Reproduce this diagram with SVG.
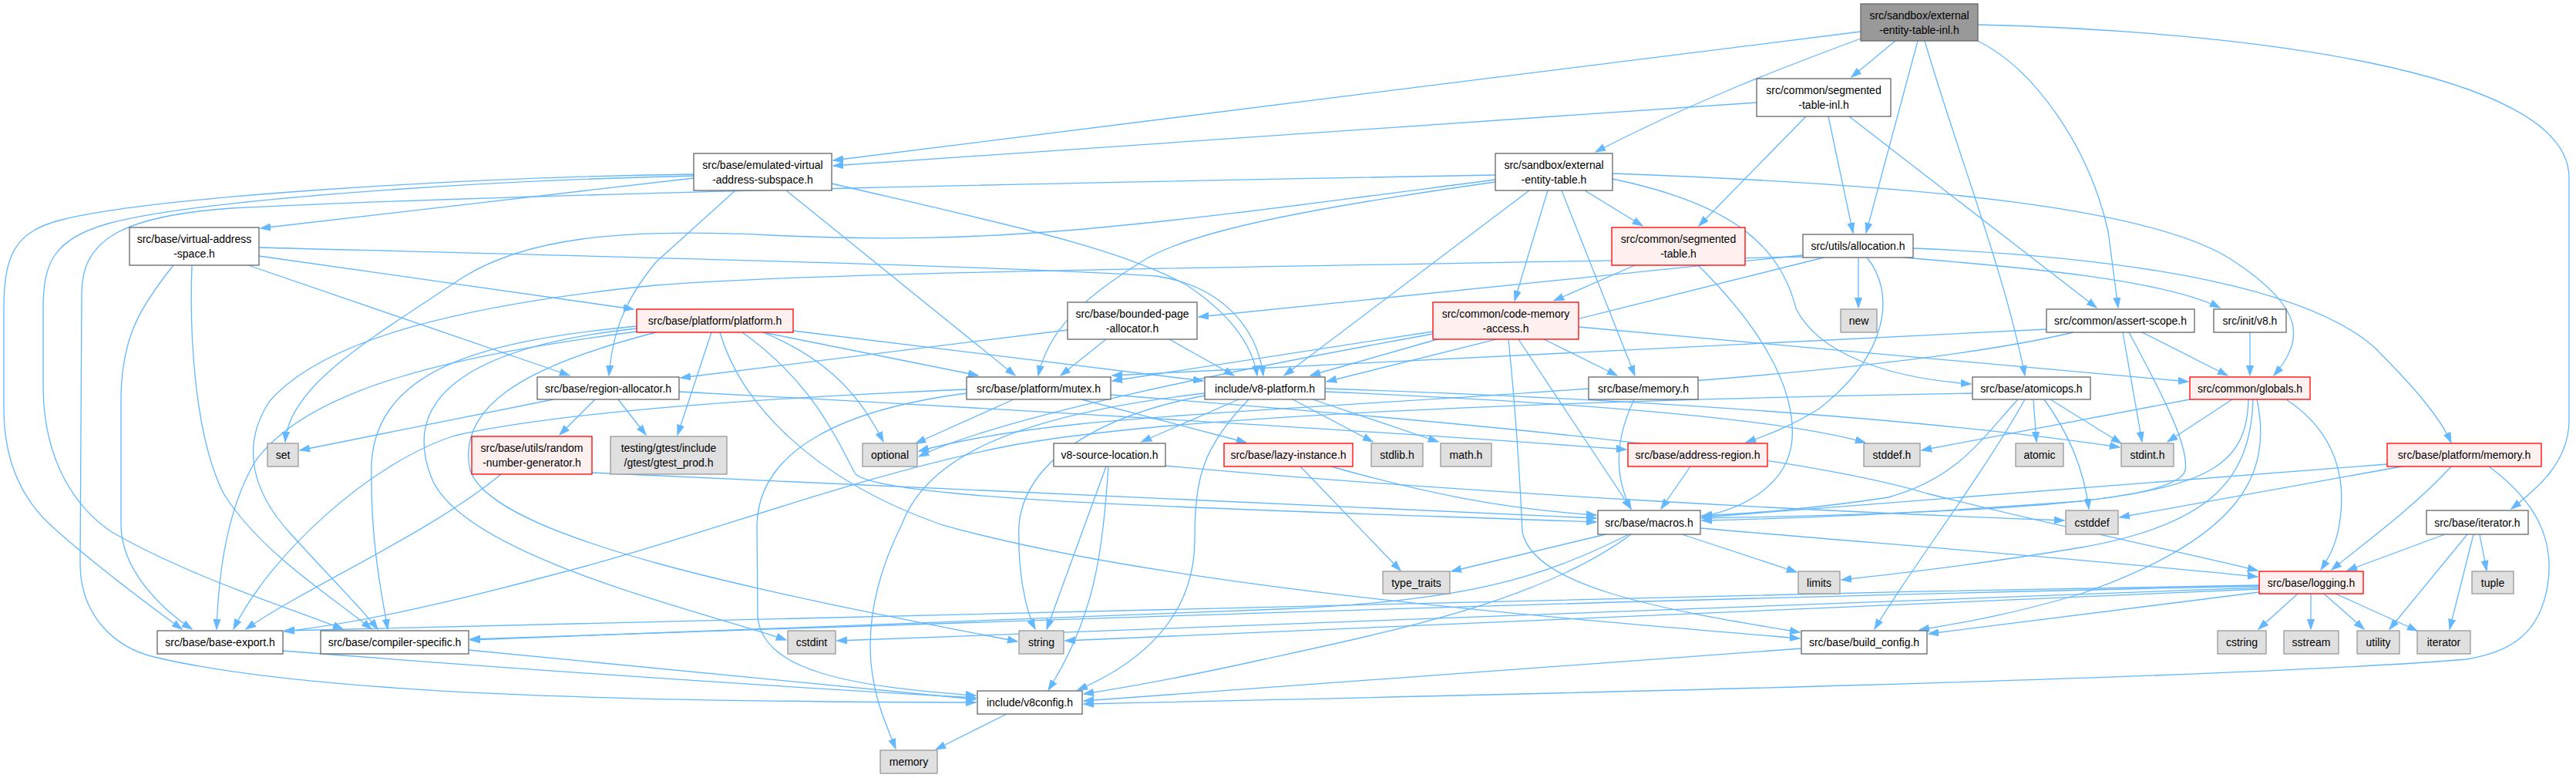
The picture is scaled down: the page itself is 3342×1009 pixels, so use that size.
<svg xmlns="http://www.w3.org/2000/svg" width="3342" height="1009" viewBox="0 0 3342 1009">
<defs>
<marker id="arr" markerWidth="14" markerHeight="10" refX="13" refY="5" orient="auto" markerUnits="userSpaceOnUse"><path d="M0,0.5 L13,5 L0,9.5 z" fill="#63b8ff" stroke="#63b8ff" stroke-width="1"/></marker>
</defs>
<style>
.e{fill:none;stroke:#63b8ff;stroke-width:1.3;marker-end:url(#arr)}
rect{stroke-width:1.3}
.n rect{fill:#ffffff;stroke:#666666}
.r rect{fill:#fff0f0;stroke:#ff0000}
.g rect{fill:#e0e0e0;stroke:#999999}
.t rect{fill:#999999;stroke:#666666}
text{font-family:"Liberation Sans",Arial,sans-serif;font-size:14px;text-anchor:middle;fill:#000000}
</style>
<rect width="3342" height="1009" fill="#ffffff"/>
<g id="edges">
<path class="e" d="M2414,41 L1081,208"/>
<path class="e" d="M2459,53 L2402,100"/>
<path class="e" d="M2414,50 C2320,85 2200,130 2070,197"/>
<path class="e" d="M2488,53 L2421,302"/>
<path class="e" d="M2566,53 C2640,90 2710,190 2735,300 L2748,399"/>
<path class="e" d="M2497,53 C2540,200 2600,350 2627,487"/>
<path class="e" d="M2566,32 C2900,40 3333,90 3333,230 L3333,545 C3333,600 3290,635 3258,660"/>
<path class="e" d="M2279,133 L1081,215"/>
<path class="e" d="M2343,151 L2204,293"/>
<path class="e" d="M2372,151 L2404,302"/>
<path class="e" d="M2399,151 L2720,399"/>
<path class="e" d="M2056,247 L2131,293"/>
<path class="e" d="M2008,247 L1965,390"/>
<path class="e" d="M2026,247 L2121,487"/>
<path class="e" d="M1984,247 L1666,487"/>
<path class="e" d="M2092,225 C2500,240 2800,270 2900,340 C2990,400 2990,440 2950,487"/>
<path class="e" d="M2092,232 C2250,265 2310,320 2330,400 C2360,460 2450,490 2557,498"/>
<path class="e" d="M1940,236 C1700,270 1540,300 1480,340 C1400,390 1360,430 1347,487"/>
<path class="e" d="M1940,233 C1500,290 1300,320 1000,305 C800,295 680,310 600,360 C480,440 375,500 370,573"/>
<path class="e" d="M1940,227 C1500,235 700,250 300,270 C160,280 106,310 106,380 L104,730 C104,800 150,840 200,852 C400,900 800,910 1266,911"/>
<path class="e" d="M900,231 L338,296"/>
<path class="e" d="M900,226 C600,230 200,255 80,285 C20,300 5,330 5,400 L5,530 C5,600 30,650 70,685 C120,730 200,790 236,816"/>
<path class="e" d="M900,228 C600,235 250,260 140,290 C70,310 56,340 56,400 L56,500 C56,600 100,660 145,690 C250,750 380,790 445,816"/>
<path class="e" d="M954,247 L851,340 C810,390 795,430 790,487"/>
<path class="e" d="M1020,247 L1317,487"/>
<path class="e" d="M1079,238 C1300,290 1450,320 1540,370 C1600,410 1625,450 1631,487"/>
<path class="e" d="M336,332 L822,401"/>
<path class="e" d="M336,321 C800,333 1300,345 1500,358 C1580,370 1630,420 1639,487"/>
<path class="e" d="M322,344 L739,487"/>
<path class="e" d="M225,344 C180,400 157,440 157,520 L157,680 C157,740 210,790 249,816"/>
<path class="e" d="M249,344 C246,420 250,560 290,640 C340,720 440,780 482,816"/>
<path class="e" d="M2339,331 L1555,411"/>
<path class="e" d="M2339,333 C1800,345 1100,350 850,370 C600,395 420,440 350,520 C310,580 330,640 375,690 C420,740 470,790 490,816"/>
<path class="e" d="M2366,334 L1721,495"/>
<path class="e" d="M2411,334 L2411,399"/>
<path class="e" d="M2422,334 C2460,380 2450,460 2360,530 C2320,555 2290,565 2265,574"/>
<path class="e" d="M2470,334 C2600,345 2800,360 2880,399"/>
<path class="e" d="M2482,322 C2800,335 3000,380 3080,450 C3130,500 3165,540 3180,574"/>
<path class="e" d="M2655,427 L1443,487"/>
<path class="e" d="M2690,431 C2400,500 1700,520 1400,550 C1300,560 1230,575 1192,585"/>
<path class="e" d="M2754,431 L2779,573"/>
<path class="e" d="M2762,431 C2810,520 2840,580 2835,610 C2825,650 2600,665 2208,672"/>
<path class="e" d="M2779,431 L2890,487"/>
<path class="e" d="M2919,431 L2919,487"/>
<path class="e" d="M1859,430 L1443,494"/>
<path class="e" d="M1859,433 C1600,480 1300,540 1192,592"/>
<path class="e" d="M1865,440 L1700,487"/>
<path class="e" d="M1957,440 C1965,520 1972,620 1975,690 C1990,760 2150,790 2335,820"/>
<path class="e" d="M1970,440 L2116,660"/>
<path class="e" d="M2003,440 L2098,487"/>
<path class="e" d="M2048,424 L2839,495"/>
<path class="e" d="M2121,344 L2016,390"/>
<path class="e" d="M2203,344 C2280,420 2330,500 2325,570 C2320,630 2260,660 2208,670"/>
<path class="e" d="M1385,428 L883,490"/>
<path class="e" d="M1435,440 L1376,487"/>
<path class="e" d="M1517,440 L1601,487"/>
<path class="e" d="M923,431 L879,564"/>
<path class="e" d="M990,431 L1269,487"/>
<path class="e" d="M1029,429 L1561,494"/>
<path class="e" d="M990,431 C1060,460 1110,500 1146,573"/>
<path class="e" d="M934,431 C960,520 1050,620 1220,680 C1500,760 2000,800 2335,828"/>
<path class="e" d="M963,431 C1060,500 1090,580 1110,615 C1150,650 1600,660 2071,677"/>
<path class="e" d="M826,430 C600,460 400,500 330,600 C290,670 283,760 281,816"/>
<path class="e" d="M826,423 C650,440 490,470 482,600 C480,700 495,770 503,816"/>
<path class="e" d="M826,426 C600,450 520,520 560,620 C600,720 900,790 1020,830"/>
<path class="e" d="M851,431 C700,470 590,520 610,610 C640,700 1000,770 1320,832"/>
<path class="e" d="M718,518 L389,584"/>
<path class="e" d="M772,518 L726,564"/>
<path class="e" d="M802,518 L838,564"/>
<path class="e" d="M881,508 C1300,530 1800,560 2110,583"/>
<path class="e" d="M650,615 C560,690 400,760 319,816"/>
<path class="e" d="M768,613 L2071,672"/>
<path class="e" d="M1254,505 C900,520 700,540 590,565 C480,600 350,720 303,816"/>
<path class="e" d="M1254,510 C1100,530 985,580 982,680 L983,800 C990,870 1100,890 1266,902"/>
<path class="e" d="M1315,518 L1188,575"/>
<path class="e" d="M1403,518 L1617,574"/>
<path class="e" d="M1441,512 C1800,540 2300,580 2500,640 C2700,690 2850,720 2929,740"/>
<path class="e" d="M1607,518 L1481,573"/>
<path class="e" d="M1620,518 C1560,580 1550,620 1550,700 C1550,800 1480,860 1398,895"/>
<path class="e" d="M1563,510 C1300,540 1200,600 1170,680 C1140,740 1125,800 1130,860 C1135,910 1150,940 1162,971"/>
<path class="e" d="M1563,513 C1420,540 1330,600 1322,680 C1320,740 1330,790 1343,816"/>
<path class="e" d="M1677,518 L1781,573"/>
<path class="e" d="M1703,518 L1866,573"/>
<path class="e" d="M1719,508 C2000,520 2300,540 2420,574"/>
<path class="e" d="M1719,504 C2200,520 2550,550 2750,580"/>
<path class="e" d="M2120,518 C2100,560 2090,610 2116,660"/>
<path class="e" d="M2559,510 C2000,520 1500,540 1300,580 C1100,620 900,700 700,750 C550,790 450,810 369,819"/>
<path class="e" d="M2618,518 C2570,570 2540,620 2450,645 C2350,660 2280,665 2208,669"/>
<path class="e" d="M2627,518 C2570,620 2470,750 2432,816"/>
<path class="e" d="M2638,518 L2642,573"/>
<path class="e" d="M2652,518 C2690,570 2705,620 2710,660"/>
<path class="e" d="M2660,518 L2752,575"/>
<path class="e" d="M2896,518 L2812,573"/>
<path class="e" d="M2841,518 L2493,584"/>
<path class="e" d="M2917,518 C2915,600 2870,630 2700,650 C2500,665 2350,672 2208,675"/>
<path class="e" d="M2923,518 C2920,620 2870,680 2700,710 C2550,735 2450,745 2389,752"/>
<path class="e" d="M2928,518 C2950,620 2900,700 2700,770 C2600,800 2530,810 2490,817"/>
<path class="e" d="M2966,518 C3030,560 3045,620 3035,680 C3030,710 3020,725 3011,739"/>
<path class="e" d="M3097,602 L2208,671"/>
<path class="e" d="M3116,605 L2750,671"/>
<path class="e" d="M3180,605 C3130,660 3060,710 3025,739"/>
<path class="e" d="M3229,605 C3290,650 3315,700 3305,760 C3295,820 3260,845 3200,855 C2900,880 2000,900 1406,913"/>
<path class="e" d="M2083,693 L1883,741"/>
<path class="e" d="M2113,693 C2000,750 1900,780 1660,790 C1200,805 900,818 610,830"/>
<path class="e" d="M2116,693 C2000,780 1800,820 1640,855 C1550,875 1470,890 1406,900"/>
<path class="e" d="M2182,693 L2331,742"/>
<path class="e" d="M2206,685 C2500,710 2700,725 2929,748"/>
<path class="e" d="M1687,605 L1817,740"/>
<path class="e" d="M1727,605 C1850,640 1950,660 2071,668"/>
<path class="e" d="M2193,605 L2155,660"/>
<path class="e" d="M1435,605 L1358,816"/>
<path class="e" d="M1438,605 C1430,720 1420,800 1360,895"/>
<path class="e" d="M1512,604 C1900,640 2400,665 2678,675"/>
<path class="e" d="M367,844 C700,870 1000,890 1266,905"/>
<path class="e" d="M608,843 C900,870 1100,890 1266,907"/>
<path class="e" d="M2337,841 L1406,909"/>
<path class="e" d="M1306,926 L1214,972"/>
<path class="e" d="M2981,770 L2930,816"/>
<path class="e" d="M2998,770 L2998,816"/>
<path class="e" d="M3015,770 L3067,816"/>
<path class="e" d="M3030,770 L3136,818"/>
<path class="e" d="M2931,768 L2502,822"/>
<path class="e" d="M2931,759 C2000,775 1000,800 369,818"/>
<path class="e" d="M2931,760 C2000,780 1200,810 610,829"/>
<path class="e" d="M2931,762 C2200,785 1600,810 1086,831"/>
<path class="e" d="M2931,764 C2300,790 1800,815 1382,831"/>
<path class="e" d="M3172,693 L3045,740"/>
<path class="e" d="M3201,693 L3100,816"/>
<path class="e" d="M3209,693 L3178,816"/>
<path class="e" d="M3217,693 L3226,740"/>
</g>
<g id="n_top" class="t"><rect x="2414" y="5" width="152" height="48"/><text x="2490" y="24.5">src/sandbox/external</text><text x="2490" y="43.5">-entity-table-inl.h</text></g>
<g id="n_seginl" class="n"><rect x="2279" y="102" width="174" height="49"/><text x="2366" y="122">src/common/segmented</text><text x="2366" y="141">-table-inl.h</text></g>
<g id="n_ext" class="n"><rect x="1940" y="199" width="152" height="48"/><text x="2016" y="218.5">src/sandbox/external</text><text x="2016" y="237.5">-entity-table.h</text></g>
<g id="n_emu" class="n"><rect x="900" y="199" width="179" height="48"/><text x="989.5" y="218.5">src/base/emulated-virtual</text><text x="989.5" y="237.5">-address-subspace.h</text></g>
<g id="n_vas" class="n"><rect x="168" y="295" width="168" height="49"/><text x="252" y="315">src/base/virtual-address</text><text x="252" y="334">-space.h</text></g>
<g id="n_seg" class="r"><rect x="2091" y="295" width="173" height="49"/><text x="2177.5" y="315">src/common/segmented</text><text x="2177.5" y="334">-table.h</text></g>
<g id="n_alloc" class="n"><rect x="2339" y="304" width="143" height="30"/><text x="2410.5" y="324">src/utils/allocation.h</text></g>
<g id="n_plat" class="r"><rect x="826" y="401" width="203" height="30"/><text x="927.5" y="421">src/base/platform/platform.h</text></g>
<g id="n_bpa" class="n"><rect x="1385" y="392" width="168" height="48"/><text x="1469" y="411.5">src/base/bounded-page</text><text x="1469" y="430.5">-allocator.h</text></g>
<g id="n_cma" class="r"><rect x="1859" y="392" width="189" height="48"/><text x="1953.5" y="411.5">src/common/code-memory</text><text x="1953.5" y="430.5">-access.h</text></g>
<g id="n_new" class="g"><rect x="2388" y="401" width="47" height="30"/><text x="2411.5" y="421">new</text></g>
<g id="n_asc" class="n"><rect x="2655" y="401" width="192" height="30"/><text x="2751" y="421">src/common/assert-scope.h</text></g>
<g id="n_initv8" class="n"><rect x="2872" y="401" width="94" height="30"/><text x="2919" y="421">src/init/v8.h</text></g>
<g id="n_ralloc" class="n"><rect x="697" y="489" width="184" height="29"/><text x="789" y="508.5">src/base/region-allocator.h</text></g>
<g id="n_mutex" class="n"><rect x="1254" y="489" width="187" height="29"/><text x="1347.5" y="508.5">src/base/platform/mutex.h</text></g>
<g id="n_v8p" class="n"><rect x="1563" y="489" width="156" height="29"/><text x="1641" y="508.5">include/v8-platform.h</text></g>
<g id="n_bmem" class="n"><rect x="2061" y="489" width="142" height="29"/><text x="2132" y="508.5">src/base/memory.h</text></g>
<g id="n_atom" class="n"><rect x="2559" y="489" width="153" height="29"/><text x="2635.5" y="508.5">src/base/atomicops.h</text></g>
<g id="n_glob" class="r"><rect x="2841" y="489" width="156" height="29"/><text x="2919" y="508.5">src/common/globals.h</text></g>
<g id="n_set" class="g"><rect x="347" y="575" width="40" height="30"/><text x="367" y="595">set</text></g>
<g id="n_rng" class="r"><rect x="612" y="566" width="156" height="49"/><text x="690" y="586">src/base/utils/random</text><text x="690" y="605">-number-generator.h</text></g>
<g id="n_gtest" class="g"><rect x="792" y="566" width="151" height="49"/><text x="867.5" y="586">testing/gtest/include</text><text x="867.5" y="605">/gtest/gtest_prod.h</text></g>
<g id="n_opt" class="g"><rect x="1119" y="575" width="71" height="30"/><text x="1154.5" y="595">optional</text></g>
<g id="n_srcloc" class="n"><rect x="1367" y="575" width="145" height="30"/><text x="1439.5" y="595">v8-source-location.h</text></g>
<g id="n_lazy" class="r"><rect x="1588" y="575" width="167" height="30"/><text x="1671.5" y="595">src/base/lazy-instance.h</text></g>
<g id="n_stdlib" class="g"><rect x="1779" y="575" width="67" height="30"/><text x="1812.5" y="595">stdlib.h</text></g>
<g id="n_math" class="g"><rect x="1869" y="575" width="66" height="30"/><text x="1902" y="595">math.h</text></g>
<g id="n_areg" class="r"><rect x="2112" y="575" width="181" height="30"/><text x="2202.5" y="595">src/base/address-region.h</text></g>
<g id="n_stddef" class="g"><rect x="2418" y="575" width="73" height="30"/><text x="2454.5" y="595">stddef.h</text></g>
<g id="n_atomic" class="g"><rect x="2615" y="575" width="62" height="30"/><text x="2646" y="595">atomic</text></g>
<g id="n_stdint" class="g"><rect x="2752" y="575" width="68" height="30"/><text x="2786" y="595">stdint.h</text></g>
<g id="n_pmem" class="r"><rect x="3097" y="575" width="200" height="30"/><text x="3197" y="595">src/base/platform/memory.h</text></g>
<g id="n_macros" class="n"><rect x="2073" y="662" width="133" height="31"/><text x="2139.5" y="682.5">src/base/macros.h</text></g>
<g id="n_cstddef" class="g"><rect x="2680" y="662" width="68" height="31"/><text x="2714" y="682.5">cstddef</text></g>
<g id="n_iterh" class="n"><rect x="3148" y="662" width="132" height="31"/><text x="3214" y="682.5">src/base/iterator.h</text></g>
<g id="n_tt" class="g"><rect x="1794" y="741" width="87" height="29"/><text x="1837.5" y="760.5">type_traits</text></g>
<g id="n_limits" class="g"><rect x="2333" y="741" width="54" height="29"/><text x="2360" y="760.5">limits</text></g>
<g id="n_log" class="r"><rect x="2931" y="741" width="135" height="29"/><text x="2998.5" y="760.5">src/base/logging.h</text></g>
<g id="n_tuple" class="g"><rect x="3207" y="741" width="54" height="29"/><text x="3234" y="760.5">tuple</text></g>
<g id="n_bexp" class="n"><rect x="204" y="818" width="163" height="30"/><text x="285.5" y="838">src/base/base-export.h</text></g>
<g id="n_cspec" class="n"><rect x="416" y="818" width="192" height="30"/><text x="512" y="838">src/base/compiler-specific.h</text></g>
<g id="n_cstdint" class="g"><rect x="1022" y="818" width="62" height="30"/><text x="1053" y="838">cstdint</text></g>
<g id="n_string" class="g"><rect x="1322" y="818" width="58" height="30"/><text x="1351" y="838">string</text></g>
<g id="n_bcfg" class="n"><rect x="2337" y="818" width="163" height="30"/><text x="2418.5" y="838">src/base/build_config.h</text></g>
<g id="n_cstring" class="g"><rect x="2877" y="818" width="63" height="30"/><text x="2908.5" y="838">cstring</text></g>
<g id="n_sstream" class="g"><rect x="2963" y="818" width="71" height="30"/><text x="2998.5" y="838">sstream</text></g>
<g id="n_utility" class="g"><rect x="3058" y="818" width="55" height="30"/><text x="3085.5" y="838">utility</text></g>
<g id="n_iter" class="g"><rect x="3136" y="818" width="69" height="30"/><text x="3170.5" y="838">iterator</text></g>
<g id="n_v8cfg" class="n"><rect x="1268" y="896" width="136" height="30"/><text x="1336" y="916">include/v8config.h</text></g>
<g id="n_memory" class="g"><rect x="1142" y="973" width="74" height="30"/><text x="1179" y="993">memory</text></g>
</svg>
